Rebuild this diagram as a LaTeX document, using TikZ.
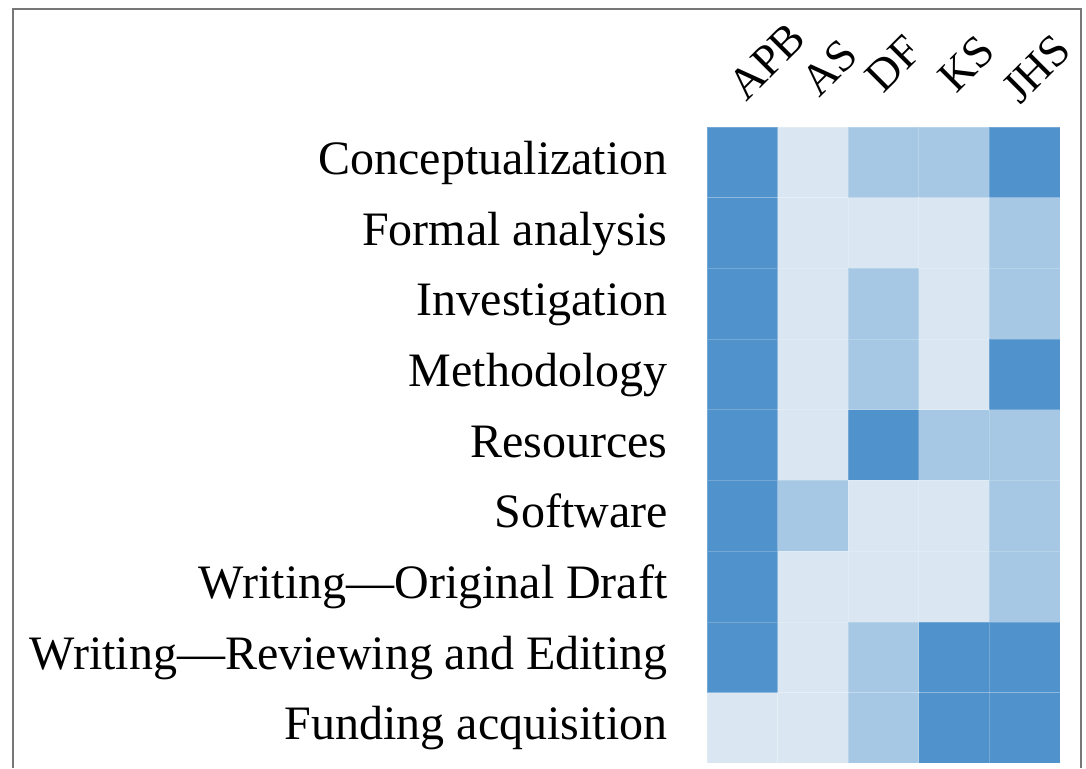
\documentclass[tikz,border=0pt]{standalone}
\usepackage{fontspec}
\setmainfont{Liberation Serif}
\usepackage{tikz}
\definecolor{heatdark}{HTML}{5092CC}
\definecolor{heatmid}{HTML}{A6C8E4}
\definecolor{heatlight}{HTML}{DAE6F2}
\definecolor{framegray}{HTML}{777777}
\tikzstyle{cell}=[rectangle, inner sep=0pt, minimum width=35.4pt,
minimum height=35.4pt, draw=white, draw opacity=0.2, line width=0.3pt]
\tikzstyle{cellhi}=[cell, fill=heatdark]
\tikzstyle{cellmid}=[cell, fill=heatmid]
\tikzstyle{celllo}=[cell, fill=heatlight]
\tikzstyle{role}=[anchor=base east, inner sep=0pt,
font=\fontsize{24}{28}\selectfont]
\tikzstyle{person}=[anchor=base west, inner sep=0pt, rotate=45,
font=\fontsize{22.5}{27}\selectfont]

\begin{document}
\begin{tikzpicture}[x=0.5pt, y=-0.5pt]
  \useasboundingbox (0, 0) rectangle (1086, 768);
  % Frame
  \draw[framegray, line width=1.2pt] (13, 768) -- (13, 9) -- (1081, 9) -- (1081, 768);

  % Column labels
  \node (APB) at (746, 103) [person]{APB};
  \node (AS) at (819, 99) [person]{AS};
  \node (DF) at (883, 95) [person]{DF};
  \node (KS) at (956, 95) [person]{KS};
  \node (JHS) at (1020, 106) [person]{JHS};

  % Row labels
  \node (r1) at (668, 174.3) [role]{Conceptualization};
  \node (r2) at (668, 245.0) [role]{Formal analysis};
  \node (r3) at (668, 315.7) [role]{Investigation};
  \node (r4) at (668, 386.4) [role]{Methodology};
  \node (r5) at (668, 457.1) [role]{Resources};
  \node (r6) at (668, 527.8) [role]{Software};
  \node (r7) at (668, 598.5) [role]{Writing---Original Draft};
  \node (r8) at (668, 669.2) [role]{Writing---Reviewing and Editing};
  \node (r9) at (668, 739.9) [role]{Funding acquisition};

  % Conceptualization
  \node (APB1) at (742.3, 162.3) [cellhi]{};
  \node (AS1) at (812.9, 162.3) [celllo]{};
  \node (DF1) at (883.5, 162.3) [cellmid]{};
  \node (KS1) at (954.1, 162.3) [cellmid]{};
  \node (JHS1) at (1024.7, 162.3) [cellhi]{};

  % Formal analysis
  \node (APB2) at (742.3, 233.0) [cellhi]{};
  \node (AS2) at (812.9, 233.0) [celllo]{};
  \node (DF2) at (883.5, 233.0) [celllo]{};
  \node (KS2) at (954.1, 233.0) [celllo]{};
  \node (JHS2) at (1024.7, 233.0) [cellmid]{};

  % Investigation
  \node (APB3) at (742.3, 303.7) [cellhi]{};
  \node (AS3) at (812.9, 303.7) [celllo]{};
  \node (DF3) at (883.5, 303.7) [cellmid]{};
  \node (KS3) at (954.1, 303.7) [celllo]{};
  \node (JHS3) at (1024.7, 303.7) [cellmid]{};

  % Methodology
  \node (APB4) at (742.3, 374.4) [cellhi]{};
  \node (AS4) at (812.9, 374.4) [celllo]{};
  \node (DF4) at (883.5, 374.4) [cellmid]{};
  \node (KS4) at (954.1, 374.4) [celllo]{};
  \node (JHS4) at (1024.7, 374.4) [cellhi]{};

  % Resources
  \node (APB5) at (742.3, 445.1) [cellhi]{};
  \node (AS5) at (812.9, 445.1) [celllo]{};
  \node (DF5) at (883.5, 445.1) [cellhi]{};
  \node (KS5) at (954.1, 445.1) [cellmid]{};
  \node (JHS5) at (1024.7, 445.1) [cellmid]{};

  % Software
  \node (APB6) at (742.3, 515.8) [cellhi]{};
  \node (AS6) at (812.9, 515.8) [cellmid]{};
  \node (DF6) at (883.5, 515.8) [celllo]{};
  \node (KS6) at (954.1, 515.8) [celllo]{};
  \node (JHS6) at (1024.7, 515.8) [cellmid]{};

  % Writing -- original draft
  \node (APB7) at (742.3, 586.5) [cellhi]{};
  \node (AS7) at (812.9, 586.5) [celllo]{};
  \node (DF7) at (883.5, 586.5) [celllo]{};
  \node (KS7) at (954.1, 586.5) [celllo]{};
  \node (JHS7) at (1024.7, 586.5) [cellmid]{};

  % Writing -- reviewing and editing
  \node (APB8) at (742.3, 657.2) [cellhi]{};
  \node (AS8) at (812.9, 657.2) [celllo]{};
  \node (DF8) at (883.5, 657.2) [cellmid]{};
  \node (KS8) at (954.1, 657.2) [cellhi]{};
  \node (JHS8) at (1024.7, 657.2) [cellhi]{};

  % Funding acquisition
  \node (APB9) at (742.3, 727.9) [celllo]{};
  \node (AS9) at (812.9, 727.9) [celllo]{};
  \node (DF9) at (883.5, 727.9) [cellmid]{};
  \node (KS9) at (954.1, 727.9) [cellhi]{};
  \node (JHS9) at (1024.7, 727.9) [cellhi]{};
\end{tikzpicture}
\end{document}
